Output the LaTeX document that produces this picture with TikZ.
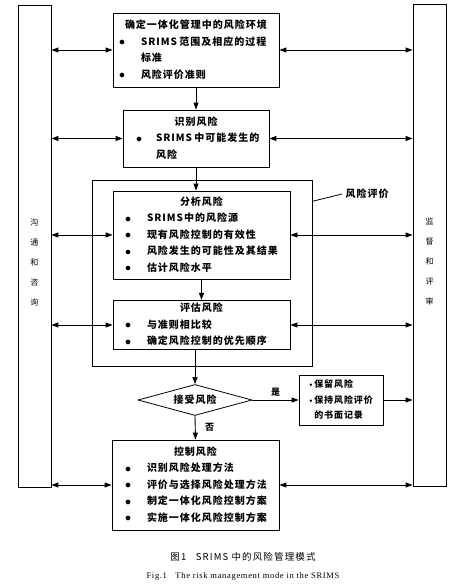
\documentclass[tikz,border=0pt]{standalone}
\usepackage{fontspec}
\setmainfont{Noto Sans CJK SC}[LetterSpace=10]
\newfontfamily\capfont{Noto Sans CJK SC}[LetterSpace=12]
\newfontfamily\engfont{Liberation Serif}[LetterSpace=8]
\usetikzlibrary{shapes.geometric, arrows.meta, positioning}
\newcommand{\bul}{\raisebox{-0.5pt}{\large$\bullet$}}
\newcommand{\dotbul}{\raisebox{1pt}{\tiny$\bullet$}\,}

\begin{document}
\begin{tikzpicture}[x=1pt, y=-1pt,
  stage/.style={draw, line width=0.8pt, inner sep=0pt, font=\bfseries\fontsize{10}{16.5}\selectfont},
  sidebar/.style={draw, line width=0.8pt, minimum width=33pt, minimum height=482pt, inner sep=0pt},
  sidetext/.style={align=center, font=\fontsize{8}{20}\selectfont},
  flow/.style={-{Triangle[length=7pt, width=5pt]}, line width=0.9pt},
  both/.style={{Triangle[length=7pt, width=5pt]}-{Triangle[length=7pt, width=5pt]}, line width=0.9pt}]
  \useasboundingbox (0,0) rectangle (464,584);

  % Side bars
  \node[sidebar] (lbar) at (34.5,246) {};
  \node[sidetext] (ltext) at (34.5,262) {沟\\通\\和\\咨\\询};
  \node[sidebar] (rbar) at (429.5,245) {};
  \node[sidetext] (rtext) at (429.5,261) {监\\督\\和\\评\\审};

  % Main steps
  \node[stage, minimum width=166pt, minimum height=74pt] (env) at (196,50) {
    \begin{tabular}{@{}p{22pt}@{}p{120pt}@{}}
      \multicolumn{2}{c}{确定一体化管理中的风险环境}\\
      \bul & SRIMS~范围及相应的过程\\
           & 标准\\
      \bul & 风险评价准则
    \end{tabular}};
  \node[stage, minimum width=146pt, minimum height=57pt] (ident) at (196,138.5) {
    \begin{tabular}{@{}p{20pt}@{}p{100pt}@{}}
      \multicolumn{2}{c}{识别风险}\\
      \bul & SRIMS~中可能发生的\\
           & 风险
    \end{tabular}};

  % Risk assessment frame
  \node[draw, line width=0.8pt, minimum width=220pt, minimum height=186pt, inner sep=0pt] (outer) at (202,273) {};
  \node[font=\bfseries\fontsize{10}{12}\selectfont, anchor=west] (evallbl) at (342,194) {风险评价};
  \draw[line width=0.8pt] (outer.33) -- (evallbl.west);

  \node[stage, minimum width=177pt, minimum height=88pt] (anal) at (201.5,235) {
    \begin{tabular}{@{}p{22pt}@{}p{131pt}@{}}
      \multicolumn{2}{c}{分析风险}\\
      \bul & SRIMS中的风险源\\
      \bul & 现有风险控制的有效性\\
      \bul & 风险发生的可能性及其结果\\
      \bul & 估计风险水平
    \end{tabular}};
  \node[stage, minimum width=177pt, minimum height=44pt] (evalr) at (201.5,325) {
    \begin{tabular}{@{}p{22pt}@{}p{131pt}@{}}
      \multicolumn{2}{c}{评估风险}\\
      \bul & 与准则相比较\\
      \bul & 确定风险控制的优先顺序
    \end{tabular}};

  % Decision
  \node[draw, diamond, aspect=3.6, line width=0.8pt, minimum width=114pt, minimum height=31pt, inner sep=0pt,
        font=\bfseries\fontsize{10}{12}\selectfont] (accept) at (195,400) {接受风险};
  \node[draw, line width=0.8pt, minimum width=84pt, minimum height=50pt, inner sep=0pt, align=left,
        font=\bfseries\fontsize{9}{15.5}\selectfont] (keep) at (341,400) {
    \dotbul 保留风险\\
    \dotbul 保持风险评价\\
    \phantom{\dotbul}的书面记录};

  \node[stage, minimum width=167pt, minimum height=90pt] (ctrl) at (195.5,485) {
    \begin{tabular}{@{}p{22pt}@{}p{119pt}@{}}
      \multicolumn{2}{c}{控制风险}\\
      \bul & 识别风险处理方法\\
      \bul & 评价与选择风险处理方法\\
      \bul & 制定一体化风险控制方案\\
      \bul & 实施一体化风险控制方案
    \end{tabular}};

  % Flow
  \draw[flow] (env.south) -- (ident.north);
  \draw[flow] (ident.south) -- (ident.south |- anal.north);
  \draw[flow] (anal.south) -- (evalr.north);
  \draw[flow] (accept.north |- evalr.south) -- (accept.north);
  \draw[flow] (accept.east) -- node[above, font=\bfseries\fontsize{9}{11}\selectfont] {是} (keep.west);
  \draw[flow] (accept.south) -- node[right=6pt, font=\bfseries\fontsize{9}{11}\selectfont] {否} (ctrl.north);
  \draw[flow] (keep.east) -- (keep.east -| rbar.west);

  % Links to the side bars
  \foreach \s in {env, ident, anal, evalr, ctrl} {
    \draw[both] (lbar.east |- \s.west) -- (\s.west);
    \draw[both] (\s.east) -- (\s.east -| rbar.west);
  }

  % Caption
  \node[font=\capfont\fontsize{9.5}{12}\selectfont] (cap) at (243,557) {图1\quad SRIMS 中的风险管理模式};
  \node[font=\engfont\fontsize{8.5}{10}\selectfont] (capen) at (243,576) {Fig.1\quad The risk management mode in the SRIMS};
\end{tikzpicture}
\end{document}
